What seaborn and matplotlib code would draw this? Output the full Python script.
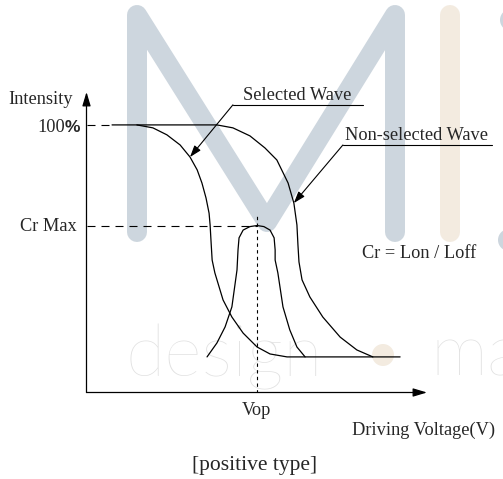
#!/usr/bin/env python3
"""Electro-optical response sketch of a positive type LCD:
light intensity vs driving voltage for selected / non-selected waves,
with the contrast ratio curve peaking at Vop."""

import matplotlib
matplotlib.use("Agg")
import matplotlib.pyplot as plt
import pandas as pd
import seaborn as sns
from matplotlib.patches import Circle

# ---------------------------------------------------------------------------
# Values (voltage in arbitrary units 0..10, intensity %)
# ---------------------------------------------------------------------------
SELECTED_V = [0.75, 1.48, 1.95, 2.36, 2.75, 3.04, 3.25, 3.39, 3.51, 3.60, 3.63,
              3.66, 3.69, 3.77, 4.01, 4.27, 4.60, 5.01, 5.39, 5.89, 9.21]
SELECTED_I = [100, 100, 98.9, 96.3, 92.5, 88.0, 83.2, 78.3, 72.7, 67.0, 62.6,
              55.9, 49.5, 44.7, 34.6, 28.2, 22.2, 17.0, 14.4, 13.3, 13.3]

NONSEL_V = [1.48, 3.83, 4.30, 4.80, 5.24, 5.59, 5.92, 6.09, 6.18, 6.21, 6.24,
            6.33, 6.56, 6.94, 7.45, 7.94, 8.41]
NONSEL_I = [100, 100, 98.9, 95.9, 91.4, 86.9, 78.3, 70.8, 62.6, 55.1, 48.8,
            42.1, 35.7, 28.2, 20.7, 15.9, 13.3]

CONTRAST_V = [3.54, 3.83, 4.07, 4.27, 4.42, 4.45, 4.48, 4.60, 4.80, 5.01,
              5.21, 5.39, 5.51, 5.54, 5.54, 5.62, 5.77, 5.97, 6.18, 6.42]
CONTRAST_I = [13.3, 18.5, 24.5, 32.0, 45.8, 53.3, 57.8, 60.7, 62.0, 62.4,
              62.0, 60.7, 57.8, 53.3, 49.5, 44.7, 32.0, 23.4, 17.0, 13.3]

FULL_I = 100.0
CR_MAX = 62.4
VOP = 5.0
V_MAX = 10.0
I_MAX = 112.3

# layout helpers (not data)
VOP_MARK_TOP = 67.0
SEL_TIP = 5        # index on the selected curve the leader points at
NONSEL_TIP = 7     # index on the non-selected curve the leader points at

W, H = 503, 479
WM_BLUE = "#cdd6de"
WM_BEIGE = "#f3ebe0"
WM_GREY = "#e1e1e1"


def leader(ax, start, tip):
    ax.annotate(
        "", xy=tip, xytext=start,
        arrowprops=dict(arrowstyle="-|>,head_length=0.5,head_width=0.17",
                        color="black", lw=0.8, mutation_scale=14,
                        shrinkA=0, shrinkB=0),
        annotation_clip=False,
    )


sns.set_theme(style="white")
plt.rcParams["font.family"] = ["Liberation Serif", "DejaVu Serif"]
SERIF = 13.2

fig = plt.figure(figsize=(W / 100, H / 100), dpi=100)
fig.patch.set_facecolor("white")

# ---- background watermark (pixel coordinates) ----
bg = fig.add_axes([0, 0, 1, 1])
bg.set_xlim(0, W)
bg.set_ylim(H, 0)
bg.axis("off")
bg.plot([137, 137, 267, 395, 395], [232, 15, 222, 15, 232], color=WM_BLUE,
        lw=14.4, solid_capstyle="round", solid_joinstyle="round")
bg.plot([450, 450], [15, 232], color=WM_BEIGE, lw=14.4, solid_capstyle="round")
bg.add_patch(Circle((511, 20), 11, color=WM_BLUE, lw=0))
bg.add_patch(Circle((509, 240), 11, color=WM_BLUE, lw=0))
bg.text(126, 376, "design", fontsize=52, color=WM_GREY, family="Lato",
        weight="light", va="baseline", ha="left")
bg.text(430, 376, "ma", fontsize=52, color=WM_GREY, family="Lato",
        weight="light", va="baseline", ha="left")
bg.add_patch(Circle((383, 355), 11, color=WM_BEIGE, lw=0))

# cut-off heading at the very top
fig.text(133 / W, 1 + 7 / H, "Operation Voltage (Vop)", family="Liberation Sans",
         weight="bold", fontsize=23.5, ha="left", va="baseline")

# ---- main diagram ----
ax = fig.add_axes([86.5 / W, (H - 392.5) / H, (427 - 86.5) / W, (392.5 - 92) / H])
ax.set_facecolor("none")
ax.set_xlim(0, V_MAX)
ax.set_ylim(0, I_MAX)
ax.axis("off")

curves = {
    "selected": pd.DataFrame({"v": SELECTED_V, "i": SELECTED_I}),
    "nonselected": pd.DataFrame({"v": NONSEL_V, "i": NONSEL_I}),
    "contrast": pd.DataFrame({"v": CONTRAST_V, "i": CONTRAST_I}),
}
for df in curves.values():
    sns.lineplot(data=df, x="v", y="i", sort=False, estimator=None,
                 color="black", lw=0.9, ax=ax)

# reference lines
ax.plot([0, SELECTED_V[0]], [FULL_I, FULL_I], color="black", lw=0.8,
        dashes=(7.2, 5.4))
ax.plot([0, VOP], [CR_MAX, CR_MAX], color="black", lw=0.8, dashes=(7.2, 5.4))
ax.plot([VOP, VOP], [0, VOP_MARK_TOP], color="black", lw=0.8, dashes=(3, 3))

# axes with arrow heads
axis_arrow = dict(arrowstyle="-|>,head_length=0.6,head_width=0.18",
                  color="black", lw=0.9, mutation_scale=14, shrinkA=0, shrinkB=0)
ax.annotate("", xy=(V_MAX, 0), xytext=(0, 0), arrowprops=axis_arrow,
            annotation_clip=False)
ax.annotate("", xy=(0, I_MAX), xytext=(0, 0), arrowprops=axis_arrow,
            annotation_clip=False)

# leader labels
sel_under = ([4.30, 8.12], [107.5, 107.5])
non_under = ([7.53, 11.91], [92.5, 92.5])
ax.plot(*sel_under, color="black", lw=0.8, clip_on=False)
ax.plot(*non_under, color="black", lw=0.8, clip_on=False)
leader(ax, (sel_under[0][0], sel_under[1][0]),
       (SELECTED_V[SEL_TIP], SELECTED_I[SEL_TIP]))
leader(ax, (non_under[0][0], non_under[1][0]),
       (NONSEL_V[NONSEL_TIP], NONSEL_I[NONSEL_TIP]))
ax.text(4.60, 109.3, "Selected Wave", fontsize=SERIF, ha="left",
        va="baseline", clip_on=False)
ax.text(7.59, 94.4, "Non-selected Wave", fontsize=SERIF, ha="left",
        va="baseline", clip_on=False)

# tick-like labels on the axes
ax.annotate("Cr Max", xy=(0, CR_MAX), xytext=(-6.8, -4.3),
            textcoords="offset points", ha="right", va="baseline",
            fontsize=SERIF, annotation_clip=False)
ax.annotate("%", xy=(0, FULL_I), xytext=(-4.7, -5.0),
            textcoords="offset points", ha="right", va="baseline",
            fontsize=12.5, family="Liberation Sans", weight="bold",
            annotation_clip=False)
ax.annotate("100", xy=(0, FULL_I), xytext=(-15.5, -5.0),
            textcoords="offset points", ha="right", va="baseline",
            fontsize=SERIF, annotation_clip=False)
ax.annotate("Vop", xy=(VOP, 0), xytext=(0, -16.2),
            textcoords="offset points", ha="center", va="baseline",
            fontsize=SERIF, annotation_clip=False)

# free text (pixel coordinates)
bg.text(8, 104, "Intensity", fontsize=SERIF, ha="left", va="baseline")
bg.text(362, 258, "Cr = Lon / Loff", fontsize=SERIF, ha="left", va="baseline")
bg.text(352, 435, "Driving Voltage(V)", fontsize=SERIF, ha="left", va="baseline")
bg.text(254.5, 470, "[positive type]", fontsize=15.5, ha="center", va="baseline")

fig.savefig("out.png", dpi=100)
